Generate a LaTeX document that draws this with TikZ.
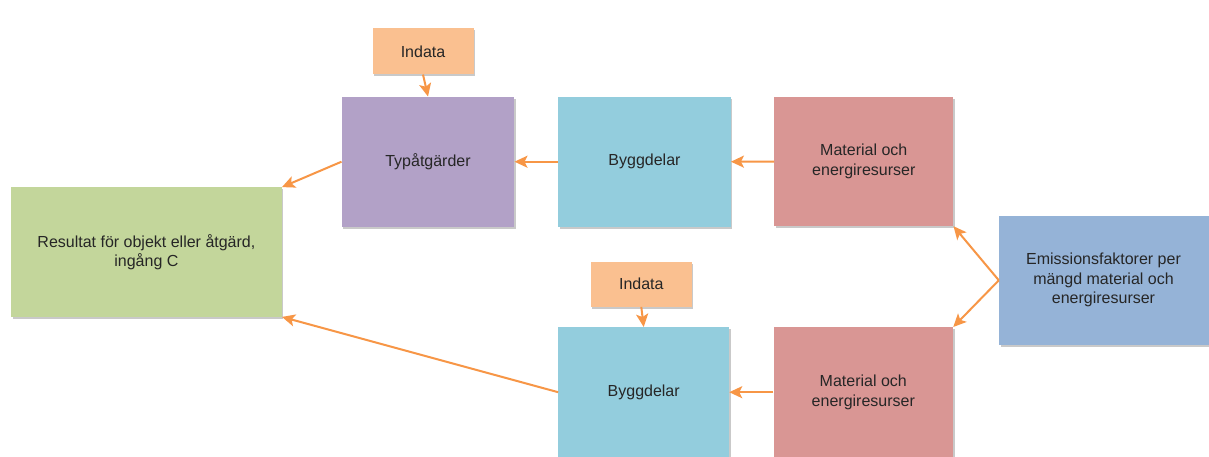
\documentclass[tikz,border=0pt]{standalone}
\usepackage{fontspec}
\setmainfont{Liberation Sans}
\usetikzlibrary{arrows.meta,shadows}
\definecolor{cIndata}{HTML}{FAC090}
\definecolor{cTyp}{HTML}{B2A1C7}
\definecolor{cBygg}{HTML}{93CDDD}
\definecolor{cMat}{HTML}{D99694}
\definecolor{cRes}{HTML}{C3D69B}
\definecolor{cEmis}{HTML}{95B3D7}
\definecolor{cArrow}{HTML}{F79646}
\definecolor{cText}{HTML}{262626}
\tikzset{
  box/.style={draw=none, inner sep=0pt, align=center, text=cText,
    font=\fontsize{16}{19.5}\selectfont,
    drop shadow={shadow xshift=1.5pt, shadow yshift=-2pt, opacity=0.35, fill=black!60}},
  conn/.style={draw=cArrow, line width=2pt,
    -{Stealth[length=13pt,width=12pt,inset=3pt]}}
}
\begin{document}
\begin{tikzpicture}[x=1pt,y=-1pt]
\fill[white] (0,0) rectangle (1209,456);
\clip (0,0) rectangle (1209,456);
\node[box, fill=cIndata, minimum width=101pt, minimum height=46pt] (in1) at (423,51.3) {Indata};
\node[box, fill=cTyp, minimum width=172.6pt, minimum height=130pt] (typ) at (428,161.7) {Typåtgärder};
\node[box, fill=cBygg, minimum width=172.4pt, minimum height=130pt] (by1) at (644.5,161.7) {Byggdelar};
\node[box, fill=cMat, minimum width=179pt, minimum height=129pt] (ma1) at (863.8,161.5) {Material och\\energiresurser};
\node[box, fill=cRes, minimum width=270.7pt, minimum height=129.4pt] (res) at (146.4,252) {Resultat för objekt eller åtgärd,\\ingång C};
\node[box, fill=cEmis, minimum width=216pt, minimum height=129.3pt, text width=200pt] (em) at (1107,280.3) {};
\node[align=center, text=cText, font=\fontsize{16}{19.5}\selectfont] (emt) at (1103.5,280.3) {Emissionsfaktorer per\\mängd material och\\energiresurser};
\node[box, fill=cIndata, minimum width=100.7pt, minimum height=45pt] (in2) at (641.3,284.2) {Indata};
\node[box, fill=cBygg, minimum width=170.7pt, minimum height=130pt] (by2) at (643.7,392.2) {Byggdelar};
\node[box, fill=cMat, minimum width=179.5pt, minimum height=130pt] (ma2) at (863.3,392.2) {Material och\\energiresurser};
\draw[conn] (in1.south) -- (typ.north);
\draw[conn] (typ.west) -- (res.north east);
\draw[conn] (by1.west) -- (typ.east);
\draw[conn] (ma1.west) -- (by1.east);
\draw[conn] (em.west) -- (ma1.south east);
\draw[conn] (em.west) -- (ma2.north east);
\draw[conn] (in2.south) -- (by2.north);
\draw[conn] (ma2.west) -- (by2.east);
\draw[conn] (by2.west) -- (res.south east);
\end{tikzpicture}
\end{document}
